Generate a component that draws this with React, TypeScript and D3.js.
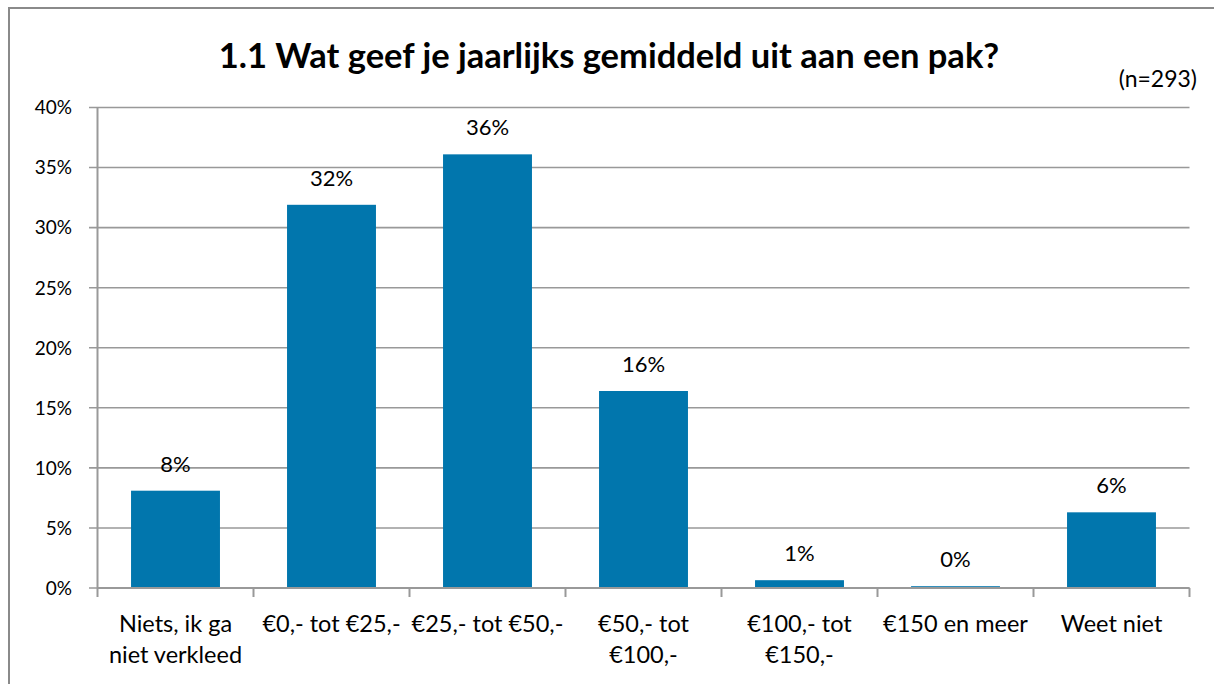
import React from "react";
import * as d3 from "d3";

const title = "1.1 Wat geef je jaarlijks gemiddeld uit aan een pak?";
const subtitle = "(n=293)";
const categories = [
  "Niets, ik ga\nniet verkleed",
  "€0,- tot €25,-",
  "€25,- tot €50,-",
  "€50,- tot\n€100,-",
  "€100,- tot\n€150,-",
  "€150 en meer",
  "Weet niet",
];
const values = [8.1, 31.9, 36.1, 16.4, 0.65, 0.15, 6.3];
const valueLabels = ["8%", "32%", "36%", "16%", "1%", "0%", "6%"];
const yTicks = [0, 5, 10, 15, 20, 25, 30, 35, 40];

const W = 1214;
const H = 684;
const FONT = "Lato, 'Open Sans', sans-serif";

export default function App() {
  const left = 97.5;
  const right = 1189.5;
  const top = 107.5;
  const bottom = 588;

  const x = d3.scaleBand<string>().domain(categories).range([left, right]).padding(0);
  const y = d3.scaleLinear().domain([0, 40]).range([bottom, top]);
  const bw = x.bandwidth();
  const barW = bw * 0.57;
  const grid = "#999999";

  const boundaries = d3.range(categories.length + 1).map((i) => left + i * bw);

  return (
    <svg
      width={W}
      height={H}
      style={{ position: "absolute", left: 0, top: 0, background: "#fff" }}
      fontFamily={FONT}
    >
      <rect x={0} y={0} width={W} height={H} fill="#fff" />
      <rect x={9} y={8} width={W + 20} height={H + 20} fill="none" stroke="#8a8a8a" strokeWidth={2} />

      <text x={609} y={68} textAnchor="middle" fontSize={34.5} fontWeight="bold" fill="#000">
        {title}
      </text>
      <text x={1197} y={87} textAnchor="end" fontSize={23} fill="#000">
        {subtitle}
      </text>

      {yTicks.map((t) => (
        <g key={t}>
          <line x1={89} x2={right} y1={y(t)} y2={y(t)} stroke={grid} strokeWidth={1.6} />
          <text x={72} y={y(t)} dy="0.36em" textAnchor="end" fontSize={19} fill="#000">
            {t}%
          </text>
        </g>
      ))}

      {categories.map((c, i) => (
        <rect
          key={c}
          x={(x(c) as number) + (bw - barW) / 2}
          y={y(values[i])}
          width={barW}
          height={bottom - y(values[i])}
          fill="#0176ad"
        />
      ))}

      <line x1={left} x2={left} y1={top} y2={bottom} stroke={grid} strokeWidth={2} />
      <line x1={left} x2={right} y1={bottom} y2={bottom} stroke={grid} strokeWidth={2} />
      {boundaries.map((b, i) => (
        <line key={i} x1={b} x2={b} y1={bottom} y2={bottom + 9} stroke={grid} strokeWidth={2} />
      ))}

      {categories.map((c, i) => (
        <text
          key={"v" + c}
          x={(x(c) as number) + bw / 2}
          y={y(values[i]) - 19}
          textAnchor="middle"
          fontSize={22}
          fill="#000"
        >
          {valueLabels[i]}
        </text>
      ))}

      {categories.map((c) => (
        <text key={"c" + c} textAnchor="middle" fontSize={23.5} fill="#000">
          {c.split("\n").map((line, j) => (
            <tspan key={j} x={(x(c) as number) + bw / 2} y={631.5 + j * 31.5}>
              {line}
            </tspan>
          ))}
        </text>
      ))}
    </svg>
  );
}
